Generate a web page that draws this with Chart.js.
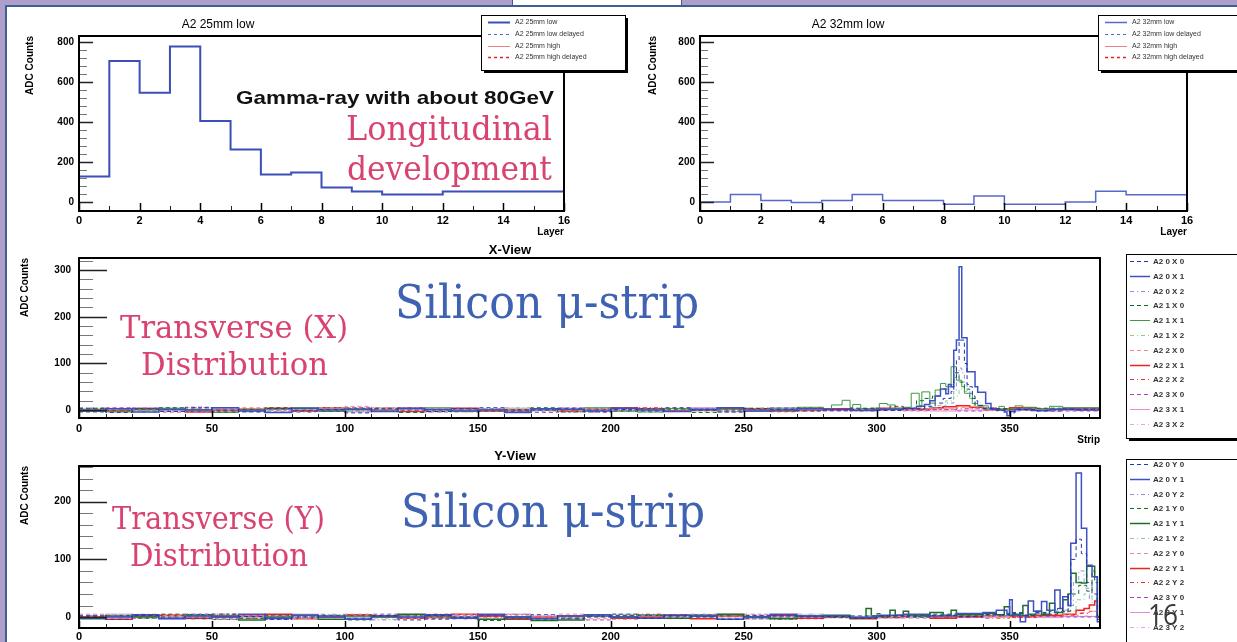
<!DOCTYPE html>
<html><head><meta charset="utf-8">
<script src="https://cdn.jsdelivr.net/npm/chart.js@4.4.0/dist/chart.umd.min.js"></script>
<style>
html,body{margin:0;padding:0;width:1237px;height:642px;overflow:hidden;background:#fff;position:relative;}
canvas{position:absolute;}
.deco{position:absolute;}
.note{position:absolute;white-space:nowrap;}
</style></head><body>
<div class="deco" style="left:0;top:0;width:1237px;height:5px;background:#ad9fc9"></div>
<div class="deco" style="left:0;top:5px;width:1237px;height:2px;background:#3f5d98"></div>
<div class="deco" style="left:0;top:0;width:5px;height:642px;background:#ad9fc9"></div>
<div class="deco" style="left:5px;top:5px;width:2px;height:637px;background:#3f5d98"></div>
<div class="deco" style="left:512px;top:-4px;width:168px;height:8px;background:#fff;border:1px solid #3f5d98"></div>
<canvas id="c1" width="630" height="230" style="left:10px;top:10px"></canvas>
<canvas id="c2" width="597" height="230" style="left:640px;top:10px"></canvas>
<canvas id="c3" width="1227" height="212" style="left:10px;top:240px"></canvas>
<canvas id="c4" width="1227" height="218" style="left:10px;top:446px"></canvas>
<script>
// ===================== DATA =====================
const layerEdges = [0,1,2,3,4,5,6,7,8,9,10,11,12,13,14,15,16];
const a2_25mm_low = [128,705,546,778,405,262,138,148,72,53,37,37,53,53,53,53,53];
const a2_25mm_low_delayed = [];
const a2_25mm_high = [];
const a2_25mm_high_delayed = [];
const a2_32mm_low = [0,38,8,-2,8,38,8,8,-11,30,-11,-11,0,54,36,36,36];
const a2_32mm_low_delayed = [];
const a2_32mm_high = [];
const a2_32mm_high_delayed = [];
const layerTicks = [0,2,4,6,8,10,12,14,16];
const adcTicksTop = [0,200,400,600,800];
const stripTicks = [0,50,100,150,200,250,300,350];
const adcTicksXView = [0,100,200,300];
const adcTicksYView = [0,100,200];

// strip edges of the quiet region (0..270), then per-series [strip, value] pairs for 280..384
const baseEdges = [0,10,20,30,40,50,60,70,80,90,100,110,120,130,140,150,160,170,180,190,200,210,220,230,240,250,260,270];

const bx00 = [4,-5,2,-3,6,0,-4,3,-2,1,-6,4,0,-3,2,5,-2,0,4,-4,1,-2,5,0,-4,3,2,-2];
const bx01 = [-2,3,-4,1,0,5,-2,-5,4,0,2,-3,4,1,-2,0,-5,3,2,-2,4,0,-3,2,5,-2,0,3];
const bx02 = [0,2,5,-2,-4,1,3,0,-5,4,-2,0,2,-4,5,1,0,-2,-5,3,0,2,-2,4,-3,0,5,2];
const bx10 = [-4,0,3,5,-2,-4,2,5,0,-2,4,2,-5,0,3,-2,1,5,-4,0,-2,3,2,-5,0,2,-2,4];
const bx11 = [2,-4,0,4,1,-5,0,2,5,-3,0,-2,3,5,-2,1,-4,0,2,5,-2,-4,3,0,2,-2,4,6];
const bx12 = [5,2,-2,0,3,1,-4,-2,2,5,-3,1,0,-2,-4,3,5,1,-2,0,4,-5,2,3,-2,5,0,-3];
const bx20 = [-2,4,1,-5,0,3,5,-3,2,0,8,5,1,3,-4,0,2,-2,5,1,-3,0,4,-2,1,0,-4,2];
const bx21 = [0,-2,3,2,-4,0,2,4,-2,5,2,0,-3,1,4,-2,0,3,-2,1,5,3,-2,0,4,2,-2,0];
const bx22 = [3,0,-4,2,5,-2,0,-5,3,2,-2,4,5,-3,0,2,-2,3,0,-4,1,5,0,2,-2,4,1,5];
const bx30 = [2,5,0,-2,3,-4,1,0,4,-2,5,0,2,-4,0,3,1,-5,0,4,-2,1,3,0,-4,2,5,0];
const bx31 = [-3,2,5,0,-2,4,-2,1,0,3,-4,2,5,0,-2,1,4,0,-3,2,0,4,-2,5,1,-3,0,2];
const bx32 = [0,-4,2,3,0,5,-2,4,1,-3,0,5,-2,2,3,0,-4,1,5,-2,3,0,2,-4,5,1,3,-2];

const tx00 = [[280,0],[290,2],[300,-1],[310,3],[318,8],[322,15],[325,25],[328,40],[329,70],[330,107],[331,150],[333,100],[334,55],[335,50],[336,30],[337,20],[338,10],[340,4],[345,0],[350,-6],[352,1],[360,-2],[370,2],[384,2]];
const tx01 = [[280,1],[290,-1],[300,2],[310,4],[315,8],[318,12],[320,20],[322,30],[324,45],[326,35],[327,55],[328,50],[329,128],[330,150],[331,307],[332,155],[334,82],[337,50],[338,38],[341,14],[343,2],[345,0],[348,-4],[349,-12],[350,-3],[352,2],[358,-1],[365,2],[375,0],[384,0]];
const tx02 = [[280,-1],[290,1],[300,0],[310,2],[320,5],[326,15],[329,40],[330,60],[331,90],[332,80],[333,60],[334,40],[335,25],[336,10],[338,3],[345,-2],[355,1],[365,-1],[375,2],[384,2]];
const tx10 = [[280,1],[290,4],[300,2],[305,8],[310,4],[315,20],[318,25],[321,30],[324,45],[327,55],[329,80],[331,60],[333,45],[335,25],[337,10],[340,3],[350,2],[360,4],[370,1],[384,1]];
const tx11 = [[280,2],[283,11],[287,21],[290,5],[291,12],[294,3],[298,4],[301,14],[304,11],[307,3],[310,6],[313,36],[316,10],[317,39],[320,15],[322,43],[324,57],[326,50],[328,93],[330,64],[332,50],[333,36],[336,14],[338,9],[342,2],[346,8],[348,2],[352,9],[355,6],[360,3],[365,8],[370,5],[384,5]];
const tx12 = [[280,0],[300,2],[315,5],[322,10],[326,20],[329,30],[331,45],[333,40],[335,25],[337,10],[340,3],[350,0],[360,2],[384,2]];
const tx20 = [[280,-1],[290,1],[300,2],[310,-2],[320,3],[330,6],[335,4],[340,1],[350,-1],[360,2],[370,0],[384,0]];
const tx21 = [[280,3],[290,1],[300,4],[310,2],[320,5],[325,7],[330,9],[335,6],[340,4],[345,3],[350,5],[360,2],[370,4],[384,4]];
const tx22 = [[280,1],[290,-2],[300,0],[310,3],[320,1],[330,4],[340,0],[350,3],[360,-1],[370,2],[384,2]];
const tx30 = [[280,-2],[290,0],[300,1],[310,-1],[320,2],[330,-2],[340,1],[350,-1],[360,0],[370,-2],[384,-2]];
const tx31 = [[280,0],[290,-1],[300,1],[310,0],[320,-2],[330,0],[340,-1],[350,1],[360,-2],[370,0],[384,0]];
const tx32 = [[280,1],[290,2],[300,-1],[310,1],[320,0],[330,2],[340,-1],[350,0],[360,1],[370,-1],[384,-1]];

const by00 = [2,-4,3,0,-2,5,1,-4,0,3,-2,2,-5,3,0,2,-2,4,-3,0,5,-2,2,0,-4,3,2,0];
const by01 = [-2,0,4,-3,2,0,5,-2,3,0,-4,2,0,4,-2,5,0,-3,2,4,0,-2,3,2,-4,0,5,2];
const by02 = [3,2,-2,0,5,-4,0,2,-2,4,2,-5,2,0,3,-2,5,0,-2,2,-4,3,0,5,2,-2,0,3];
const by10 = [0,3,-2,5,2,-4,-2,3,0,2,-5,3,2,-2,0,-6,-3,-5,0,2,3,-2,0,4,2,-3,0,2];
const by11 = [-3,2,0,-2,4,2,-5,0,3,-4,2,0,5,2,-2,-4,0,-6,-5,2,0,3,-2,2,5,0,-3,2];
const by12 = [2,0,5,-2,-4,3,0,2,-2,5,0,-4,2,3,0,-2,2,-5,0,3,2,-2,4,0,-3,2,0,5];
const by20 = [5,-2,0,3,2,-4,3,0,-2,2,5,0,-3,2,4,-2,0,2,5,-3,0,2,-2,4,0,5,-2,0];
const by21 = [0,-4,2,3,-2,0,2,5,-3,0,4,2,-2,0,5,2,-4,0,2,3,-2,0,4,-3,2,0,3,-2];
const by22 = [-2,2,4,0,-3,5,-2,0,2,-4,3,0,2,5,-2,0,4,-2,-3,2,0,5,2,-2,3,0,-4,2];
const by30 = [3,0,-2,2,5,-2,3,-4,0,2,-2,5,0,-4,2,3,0,-2,2,-5,3,0,2,4,-2,2,0,-3];
const by31 = [0,5,2,-3,0,2,-2,3,5,0,-4,2,3,-2,0,2,5,-3,0,2,-2,4,0,2,5,-3,2,0];
const by32 = [2,-2,0,4,-2,5,0,-3,2,3,0,-2,5,2,-4,0,2,3,-2,0,5,2,-3,0,2,4,-2,5];

const ty00 = [[280,1],[290,-2],[300,2],[310,0],[320,3],[330,1],[340,4],[350,6],[355,3],[360,8],[365,5],[368,15],[370,10],[372,40],[373,100],[375,135],[377,110],[379,60],[381,40],[383,-4],[384,-4]];
const ty01 = [[280,2],[290,-1],[300,3],[310,5],[320,2],[330,6],[340,8],[345,12],[349,6],[350,30],[351,5],[354,-8],[356,2],[357,28],[359,10],[362,27],[364,12],[367,47],[369,15],[370,35],[372,20],[373,128],[375,250],[377,154],[379,90],[381,70],[383,-8],[384,-8]];
const ty02 = [[280,0],[290,2],[300,-1],[310,1],[320,3],[330,0],[340,2],[350,4],[360,6],[365,10],[370,12],[372,20],[374,60],[376,80],[378,50],[380,30],[383,0],[384,0]];
const ty10 = [[280,-1],[290,2],[300,6],[302,0],[310,3],[320,5],[330,2],[340,4],[350,8],[355,3],[360,6],[365,10],[370,10],[373,40],[376,55],[379,45],[381,80],[382,60],[383,0],[384,0]];
const ty11 = [[280,3],[290,-2],[296,15],[298,2],[305,12],[307,3],[310,10],[312,2],[320,8],[325,3],[328,12],[330,4],[340,6],[345,4],[348,18],[350,3],[355,20],[357,5],[360,10],[362,4],[365,24],[367,8],[370,30],[372,40],[373,76],[375,60],[377,59],[379,88],[382,70],[383,0],[384,0]];
const ty12 = [[280,1],[290,0],[300,3],[310,-1],[320,2],[330,4],[340,1],[350,3],[360,5],[365,8],[372,10],[375,30],[378,40],[381,25],[383,0],[384,0]];
const ty20 = [[280,2],[290,0],[300,1],[310,-2],[320,1],[330,3],[340,0],[350,2],[360,1],[370,4],[375,8],[380,10],[383,2],[384,2]];
const ty21 = [[280,0],[290,-3],[300,-1],[310,1],[320,-2],[330,0],[340,2],[350,1],[360,3],[370,5],[372,5],[375,12],[378,15],[380,21],[382,28],[383,0],[384,0]];
const ty22 = [[280,-1],[290,1],[300,0],[310,2],[320,-1],[330,1],[340,-2],[350,0],[360,2],[370,3],[376,6],[380,10],[383,1],[384,1]];
const ty30 = [[280,1],[290,-1],[300,2],[310,0],[320,1],[330,-1],[340,2],[350,-1],[360,1],[370,0],[384,0]];
const ty31 = [[280,-1],[290,1],[300,0],[310,2],[320,-1],[330,1],[340,0],[350,2],[360,-1],[370,1],[384,1]];
const ty32 = [[280,2],[290,0],[300,-2],[310,1],[320,0],[330,2],[340,-1],[350,1],[360,0],[370,2],[384,2]];

const xViewLabels = ['A2 0 X 0','A2 0 X 1','A2 0 X 2','A2 1 X 0','A2 1 X 1','A2 1 X 2','A2 2 X 0','A2 2 X 1','A2 2 X 2','A2 3 X 0','A2 3 X 1','A2 3 X 2'];
const yViewLabels = ['A2 0 Y 0','A2 0 Y 1','A2 0 Y 2','A2 1 Y 0','A2 1 Y 1','A2 1 Y 2','A2 2 Y 0','A2 2 Y 1','A2 2 Y 2','A2 3 Y 0','A2 3 Y 1','A2 3 Y 2'];
const xViewBase = [bx00,bx01,bx02,bx10,bx11,bx12,bx20,bx21,bx22,bx30,bx31,bx32];
const xViewTail = [tx00,tx01,tx02,tx10,tx11,tx12,tx20,tx21,tx22,tx30,tx31,tx32];
const yViewBase = [by00,by01,by02,by10,by11,by12,by20,by21,by22,by30,by31,by32];
const yViewTail = [ty00,ty01,ty02,ty10,ty11,ty12,ty20,ty21,ty22,ty30,ty31,ty32];

// ===================== STYLES =====================
const DASH = [4,3], DOTDASH = [4,3,1,3];
const stripStylesX = [
  {c:'#2234b0', d:DASH, w:1}, {c:'#3d50c4', d:[], w:1.5}, {c:'#8c95e0', d:DOTDASH, w:1},
  {c:'#0b6b1e', d:DASH, w:1}, {c:'#3c9a46', d:[], w:1}, {c:'#8ccc8c', d:DOTDASH, w:1},
  {c:'#f08a8a', d:DASH, w:1}, {c:'#ee2020', d:[], w:1.5}, {c:'#ee3030', d:DOTDASH, w:1},
  {c:'#b040c0', d:DASH, w:1}, {c:'#e08ad8', d:[], w:1}, {c:'#f0a0e8', d:DOTDASH, w:1}
];
const stripStylesY = stripStylesX.map((s,i)=> i===4 ? {c:'#1e6e28', d:[], w:1.5} : s);

function histPoints(edges, vals){ return vals.map((v,i)=>({x:edges[i], y:v})); }
function stripPoints(base, tail){
  return baseEdges.map((e,i)=>({x:e, y:base[i]})).concat(tail.map(p=>({x:p[0], y:p[1]})));
}
function lineDs(label, data, color, dash, width){
  return {label, data, borderColor:color, borderDash:dash, borderWidth:width,
          stepped:true, pointRadius:0, fill:false, tension:0};
}

// ===================== PLUGINS =====================
const rootFrame = {
  id:'rootFrame',
  afterDatasetsDraw(chart, args, o){
    if(!o || !o.on) return;
    const {ctx, chartArea:a} = chart; const xs = chart.scales.x, ys = chart.scales.y;
    ctx.save();
    const tickY = (step, len, color, w) => {
      ctx.strokeStyle=color; ctx.lineWidth=w; ctx.beginPath();
      for(let k=Math.ceil(ys.min/step); k*step<=ys.max; k++){
        const py = Math.round(ys.getPixelForValue(k*step))+0.5;
        ctx.moveTo(a.left, py); ctx.lineTo(a.left+len, py);
      }
      ctx.stroke();
    };
    const tickX = (step, len, color, w) => {
      ctx.strokeStyle=color; ctx.lineWidth=w; ctx.beginPath();
      for(let k=Math.ceil(xs.min/step); k*step<=xs.max; k++){
        const px = Math.round(xs.getPixelForValue(k*step))+0.5;
        ctx.moveTo(px, a.bottom); ctx.lineTo(px, a.bottom-len);
      }
      ctx.stroke();
    };
    tickY(o.yMinor, o.yMinorLen, '#777', 1);
    tickY(o.yMajor, o.yMajorLen, '#222', 1.5);
    tickX(o.xMinor, o.xMinorLen, '#222', 1);
    tickX(o.xMajor, o.xMajorLen, '#000', 1.5);
    ctx.strokeStyle='#000'; ctx.lineWidth=2;
    ctx.strokeRect(a.left, a.top, a.right-a.left, a.bottom-a.top);
    ctx.restore();
  }
};
const rootLegend = {
  id:'rootLegend',
  afterDraw(chart, args, o){
    if(!o || !o.box) return;
    const {ctx} = chart; const [bx,by,bw,bh] = o.box;
    ctx.save();
    ctx.fillStyle='#000'; ctx.fillRect(bx+3, by+3, bw, bh);
    ctx.fillStyle='#fff'; ctx.fillRect(bx, by, bw, bh);
    ctx.strokeStyle='#000'; ctx.lineWidth=1; ctx.strokeRect(bx+0.5, by+0.5, bw, bh);
    chart.data.datasets.forEach((ds,i)=>{
      const yy = Math.round(by + o.firstY + i*o.rowH)+0.5;
      ctx.strokeStyle=ds.borderColor; ctx.lineWidth=Math.max(1, ds.borderWidth);
      ctx.setLineDash(ds.borderDash||[]);
      ctx.beginPath(); ctx.moveTo(bx+o.sx0, yy); ctx.lineTo(bx+o.sx1, yy); ctx.stroke();
      ctx.setLineDash([]);
      ctx.fillStyle=o.color; ctx.font=o.font; ctx.textBaseline='middle'; ctx.textAlign='left';
      ctx.fillText(ds.label, bx+o.tx, yy);
    });
    ctx.restore();
  }
};
const panelTitle = {
  id:'panelTitle',
  afterDraw(chart, args, o){
    if(!o || !o.text) return;
    const {ctx} = chart; ctx.save();
    ctx.font=o.font; ctx.fillStyle='#000'; ctx.textAlign='center'; ctx.textBaseline='middle';
    ctx.fillText(o.text, o.x, o.y); ctx.restore();
  }
};

Chart.defaults.font.family = '"Liberation Sans", Arial, sans-serif';
Chart.defaults.color = '#000';

function makeChart(id, cfg){
  return new Chart(document.getElementById(id), {
    type:'line',
    data:{datasets:cfg.datasets},
    options:{
      responsive:false, animation:false, devicePixelRatio:1, events:[],
      layout:{padding:{top:cfg.padTop, right:cfg.padRight, left:0, bottom:0}},
      plugins:{legend:{display:false}, tooltip:{enabled:false},
               rootFrame:cfg.frame, rootLegend:cfg.legend, panelTitle:cfg.title},
      scales:{
        x:{type:'linear', min:cfg.xMin, max:cfg.xMax,
           grid:{display:false, drawTicks:false}, border:{display:false},
           afterBuildTicks:s=>{ s.ticks = cfg.xTicks.map(v=>({value:v})); },
           afterFit:s=>{ s.height = cfg.xAxisH; },
           ticks:{font:{size:11, weight:'bold'}, color:'#000', padding:cfg.xTickPad, maxRotation:0, autoSkip:false},
           title:{display:true, text:cfg.xTitle, align:'end', color:'#000', font:{size:10, weight:'bold'}, padding:{top:0, bottom:cfg.xTitlePad}}},
        y:{type:'linear', min:cfg.yMin, max:cfg.yMax,
           grid:{display:false, drawTicks:false}, border:{display:false},
           afterBuildTicks:s=>{ s.ticks = cfg.yTicks.map(v=>({value:v})); },
           afterFit:s=>{ s.width = cfg.yAxisW; },
           ticks:{font:{size:10, weight:'bold'}, color:'#000', padding:cfg.yTickPad},
           title:{display:true, text:'ADC Counts', align:'end', color:'#000', font:{size:10, weight:'bold'}, padding:{top:cfg.yTitlePad, bottom:0}}}
      }
    },
    plugins:[rootFrame, rootLegend, panelTitle]
  });
}

const topLegendStyle = {firstY:7, rowH:11.8, sx0:7, sx1:29, tx:34, font:'7px "Liberation Sans"', color:'#333'};
const stripLegendStyle = {firstY:7, rowH:14.8, sx0:4, sx1:24, tx:27, font:'bold 8px "Liberation Sans"', color:'#333'};

// ---- Panel 1
makeChart('c1', {
  datasets:[
    lineDs('A2 25mm low', histPoints(layerEdges, a2_25mm_low), '#3c4fb8', [], 2),
    lineDs('A2 25mm low delayed', histPoints(layerEdges, a2_25mm_low_delayed), '#5a64d0', [3,3], 1),
    lineDs('A2 25mm high', histPoints(layerEdges, a2_25mm_high), '#f08080', [], 1),
    lineDs('A2 25mm high delayed', histPoints(layerEdges, a2_25mm_high_delayed), '#e82020', [3,3], 1.5)
  ],
  padTop:26, padRight:76, yAxisW:69, xAxisH:29,
  xMin:0, xMax:16, yMin:-45, yMax:830, xTicks:layerTicks, yTicks:adcTicksTop,
  xTickPad:3, yTickPad:5, xTitle:'Layer', xTitlePad:2, yTitlePad:14,
  frame:{on:true, yMajor:200, yMajorLen:14, yMinor:40, yMinorLen:8, xMajor:2, xMajorLen:8, xMinor:1, xMinorLen:5},
  legend:Object.assign({box:[471,5,144,55]}, topLegendStyle),
  title:{text:'A2 25mm low', x:208, y:15, font:'12px "Liberation Sans"'}
});
// ---- Panel 2
makeChart('c2', {
  datasets:[
    lineDs('A2 32mm low', histPoints(layerEdges, a2_32mm_low), '#5668c8', [], 1.5),
    lineDs('A2 32mm low delayed', histPoints(layerEdges, a2_32mm_low_delayed), '#5a64d0', [3,3], 1),
    lineDs('A2 32mm high', histPoints(layerEdges, a2_32mm_high), '#f08080', [], 1),
    lineDs('A2 32mm high delayed', histPoints(layerEdges, a2_32mm_high_delayed), '#e82020', [3,3], 1.5)
  ],
  padTop:26, padRight:50, yAxisW:60, xAxisH:29,
  xMin:0, xMax:16, yMin:-45, yMax:830, xTicks:layerTicks, yTicks:adcTicksTop,
  xTickPad:3, yTickPad:5, xTitle:'Layer', xTitlePad:2, yTitlePad:7,
  frame:{on:true, yMajor:200, yMajorLen:14, yMinor:40, yMinorLen:8, xMajor:2, xMajorLen:8, xMinor:1, xMinorLen:5},
  legend:Object.assign({box:[458,5,145,55]}, topLegendStyle),
  title:{text:'A2 32mm low', x:208, y:15, font:'12px "Liberation Sans"'}
});
// ---- Panel 3 (X-View)
makeChart('c3', {
  datasets: xViewLabels.map((lb,i)=>lineDs(lb, stripPoints(xViewBase[i], xViewTail[i]), stripStylesX[i].c, stripStylesX[i].d, stripStylesX[i].w)),
  padTop:18, padRight:137, yAxisW:69, xAxisH:34,
  xMin:0, xMax:384, yMin:-17, yMax:326, xTicks:stripTicks, yTicks:adcTicksXView,
  xTickPad:4, yTickPad:8, xTitle:'Strip', xTitlePad:6, yTitlePad:9,
  frame:{on:true, yMajor:100, yMajorLen:28, yMinor:20, yMinorLen:14, xMajor:50, xMajorLen:7, xMinor:10, xMinorLen:4},
  legend:Object.assign({box:[1116,14,115,184]}, stripLegendStyle),
  title:{text:'X-View', x:500, y:10, font:'bold 13px "Liberation Sans"'}
});
// ---- Panel 4 (Y-View)
makeChart('c4', {
  datasets: yViewLabels.map((lb,i)=>lineDs(lb, stripPoints(yViewBase[i], yViewTail[i]), stripStylesY[i].c, stripStylesY[i].d, stripStylesY[i].w)),
  padTop:20, padRight:137, yAxisW:69, xAxisH:36,
  xMin:0, xMax:384, yMin:-19, yMax:262, xTicks:stripTicks, yTicks:adcTicksYView,
  xTickPad:2, yTickPad:8, xTitle:'Strip', xTitlePad:6, yTitlePad:9,
  frame:{on:true, yMajor:100, yMajorLen:28, yMinor:20, yMinorLen:14, xMajor:50, xMajorLen:7, xMinor:10, xMinorLen:4},
  legend:Object.assign({box:[1116,13,115,200], firstY:5}, {rowH:14.8, sx0:4, sx1:24, tx:27, font:'bold 8px "Liberation Sans"', color:'#333'}),
  title:{text:'Y-View', x:505, y:10, font:'bold 13px "Liberation Sans"'}
});

// ===================== ANNOTATION TEXT (layout only) =====================
const SERIF = '"DejaVu Serif", "Liberation Serif", serif';
const SANS = '"Liberation Sans", Arial, sans-serif';
const PINK = '#d8436f', BLUE = '#3f62b2';
const annotationLayout = [
  {t:'Gamma-ray with about 80GeV', l:236, b:104, w:318, s:19, f:SANS, wt:'bold', c:'#111'},
  {t:'Longitudinal', l:346, b:140, w:206, s:33, f:SERIF, wt:'normal', c:PINK},
  {t:'development', l:347, b:180, w:205, s:33, f:SERIF, wt:'normal', c:PINK},
  {t:'Silicon \u03bc-strip', l:395, b:318, w:304, s:46, f:SERIF, wt:'normal', c:BLUE},
  {t:'Transverse (X)', l:120, b:338, w:228, s:32, f:SERIF, wt:'normal', c:PINK},
  {t:'Distribution', l:141, b:375, w:187, s:32, f:SERIF, wt:'normal', c:PINK},
  {t:'Silicon \u03bc-strip', l:401, b:527, w:304, s:46, f:SERIF, wt:'normal', c:BLUE},
  {t:'Transverse (Y)', l:112, b:529, w:213, s:32, f:SERIF, wt:'normal', c:PINK},
  {t:'Distribution', l:130, b:566, w:178, s:32, f:SERIF, wt:'normal', c:PINK},
  {t:'16', l:1148, b:624, w:30, s:30, f:'"Open Sans", sans-serif', wt:'normal', c:'#3a3a3a'}
];
annotationLayout.forEach(n=>{
  const d = document.createElement('div');
  d.className='note'; d.textContent=n.t;
  d.style.fontFamily=n.f; d.style.fontWeight=n.wt; d.style.fontSize=n.s+'px';
  d.style.lineHeight=n.s+'px'; d.style.color=n.c;
  d.style.left=n.l+'px'; d.style.top=(n.b-0.846*n.s)+'px';
  document.body.appendChild(d);
  const w = d.getBoundingClientRect().width;
  d.style.transformOrigin='0 0'; d.style.transform='scaleX('+(n.w/w).toFixed(3)+')';
});
</script>
</body></html>
